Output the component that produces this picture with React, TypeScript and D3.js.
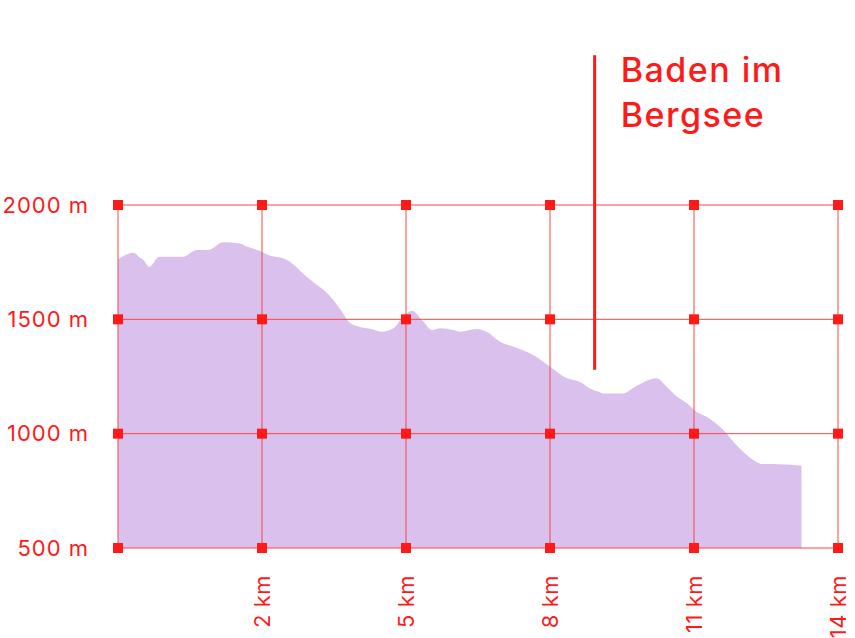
import React from "react";
import * as d3 from "d3";

// Elevation profile: distance (km) and elevation (m)
const distanceKm = [
  -1.0, -0.68, -0.54, -0.47, -0.35, -0.14, 0.36, 0.64, 0.88, 1.19, 1.54, 1.68, 1.96, 2.17, 2.44, 2.58,
  2.93, 3.49, 3.63, 3.83, 4.04, 4.32, 4.49, 4.74, 4.91, 5.12, 5.36, 5.54, 5.71, 5.99, 6.13, 6.47, 6.68,
  6.96, 7.24, 7.65, 8.0, 8.35, 8.63, 8.83, 9.0, 9.11, 9.53, 9.74, 10.22, 10.43, 10.64, 10.85, 11.05,
  11.26, 11.61, 11.82, 12.1, 12.44, 12.79, 13.24,
];
const elevationM = [
  1762, 1791, 1769, 1759, 1730, 1774, 1774, 1803, 1803, 1837, 1832, 1818, 1799, 1778, 1767, 1752,
  1686, 1584, 1544, 1485, 1466, 1456, 1446, 1461, 1504, 1538, 1490, 1453, 1461, 1453, 1446, 1458, 1446,
  1402, 1380, 1344, 1293, 1242, 1226, 1198, 1184, 1176, 1176, 1201, 1242, 1205, 1162, 1133, 1096,
  1074, 1016, 965, 907, 867, 866, 860,
];

const xGridKm = [-1, 2, 5, 8, 11, 14];
const xTickLabels = ["", "2 km", "5 km", "8 km", "11 km", "14 km"];
const yGridM = [500, 1000, 1500, 2000];
const yTickLabels = ["500 m", "1000 m", "1500 m", "2000 m"];

const annotationKm = [8.93];
const annotationRangeM = [1280, 2655];
const annotationLines = ["Baden im", "Bergsee"];

const RED = "#ff1a1a";
const GRID = "#ff4545";
const FILL = "#d9c0ed";
const FONT = "Inter, 'Noto Sans', sans-serif";

export default function App() {
  const width = 855;
  const height = 638;
  const x = d3.scaleLinear().domain([-1, 14]).range([118, 838]);
  const y = d3.scaleLinear().domain([500, 2000]).range([548, 205]);

  const data = distanceKm.map((d, i) => ({ d, e: elevationM[i] }));
  const area = d3
    .area<{ d: number; e: number }>()
    .x((p) => x(p.d))
    .y0(y(500))
    .y1((p) => y(p.e))
    .curve(d3.curveMonotoneX);

  const [x0, x1] = x.range();
  const sq = 10;

  return (
    <svg
      width={width}
      height={height}
      style={{ position: "absolute", left: 0, top: 0, background: "#fff" }}
      fontFamily={FONT}
    >
      <path d={area(data) || ""} fill={FILL} />

      {yGridM.map((v) => (
        <line key={"h" + v} x1={x0} x2={x1} y1={y(v)} y2={y(v)} stroke={GRID} strokeWidth={1} />
      ))}
      {xGridKm.map((v) => (
        <line key={"v" + v} x1={x(v)} x2={x(v)} y1={y(500)} y2={y(2000)} stroke={GRID} strokeWidth={1} />
      ))}
      {xGridKm.map((xv) =>
        yGridM.map((yv) => (
          <rect
            key={"s" + xv + "_" + yv}
            x={x(xv) - sq / 2}
            y={y(yv) - sq / 2}
            width={sq}
            height={sq}
            fill={RED}
          />
        ))
      )}

      {yGridM.map((v, i) => (
        <text
          key={"yl" + v}
          x={89}
          y={y(v)}
          dy="0.35em"
          textAnchor="end"
          fontSize={22}
          letterSpacing={1}
          fill={RED}
        >
          {yTickLabels[i]}
        </text>
      ))}
      {xGridKm.map((v, i) =>
        xTickLabels[i] ? (
          <text
            key={"xl" + v}
            transform={`translate(${x(v)},575) rotate(-90)`}
            dy="0.35em"
            textAnchor="end"
            fontSize={22}
            letterSpacing={0.5}
            fill={RED}
          >
            {xTickLabels[i]}
          </text>
        ) : null
      )}

      <line
        x1={x(annotationKm[0])}
        x2={x(annotationKm[0])}
        y1={y(annotationRangeM[0])}
        y2={y(annotationRangeM[1])}
        stroke={RED}
        strokeWidth={3}
      />
      {annotationLines.map((t, i) => (
        <text
          key={"a" + i}
          x={x(annotationKm[0]) + 26}
          y={82 + i * 45}
          fontSize={34}
          fontWeight={500}
          letterSpacing={1.5}
          fill={RED}
        >
          {t}
        </text>
      ))}
    </svg>
  );
}
